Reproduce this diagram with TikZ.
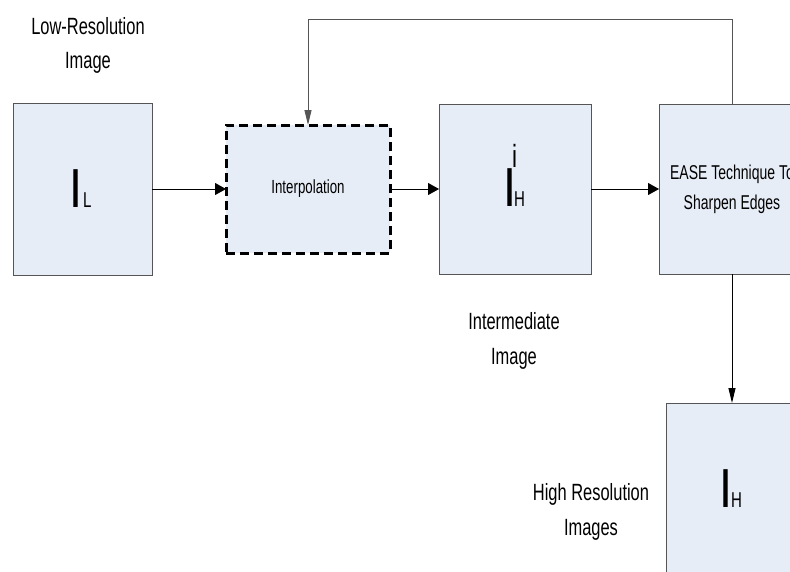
\documentclass[tikz,border=0pt]{standalone}
\usepackage{fontspec}
\setmainfont{Liberation Sans}[FakeStretch=0.7]
\newfontfamily\Ifont{Liberation Sans}[FakeStretch=0.85]
\usetikzlibrary{arrows.meta}
\definecolor{boxfill}{HTML}{E7EDF7}
\definecolor{boxline}{HTML}{555555}
\tikzset{
  imgbox/.style={draw=boxline, fill=boxfill, line width=1pt, inner sep=0pt, outer sep=0pt},
  dashbox/.style={draw=black, fill=boxfill, line width=3pt, dash pattern=on 9pt off 5pt, inner sep=0pt, outer sep=0pt},
  conn/.style={draw=black, line width=0.9pt},
  harrow/.style={-{Triangle[length=11pt,width=12pt]}},
  varrow/.style={-{Triangle[length=15pt,width=7pt]}},
  lbl/.style={inner sep=0pt, anchor=base, font=\fontsize{23.5}{28}\selectfont},
  glyph/.style={inner sep=0pt, anchor=base west}
}
\newcommand{\bigI}{\Ifont\fontsize{55}{55}\selectfont}
\newcommand{\subL}{\fontsize{21.5}{22}\selectfont}
\newcommand{\supi}{\fontsize{32}{32}\selectfont}
\begin{document}
\begin{tikzpicture}[x=1pt, y=-1pt]
\useasboundingbox (0,0) rectangle (790,571);
\clip (0,0) rectangle (790,571);
% boxes
\node[imgbox, minimum width=139pt, minimum height=172pt] (il) at (82.5,189) {};
\node[dashbox, minimum width=164pt, minimum height=128pt, font=\fontsize{19}{19}\selectfont] (interp) at (308,189) {Interpolation};
\node[imgbox, minimum width=152pt, minimum height=170pt] (ihi) at (515,189) {};
\node[imgbox, minimum width=146pt, minimum height=170pt, align=center, font=\fontsize{20}{30}\selectfont] (ease) at (732,189) {EASE Technique To\\Sharpen Edges};
\node[imgbox, minimum width=132pt, minimum height=170pt] (ih) at (732,488) {};
% glyphs
\node[glyph] (ilI) at (69.6,207) {\bigI I};
\node[glyph] (ilL) at (83,207) {\subL L};
\node[glyph] (ihiI) at (503.6,206) {\bigI I};
\node[glyph] (ihii) at (512,167) {\supi i};
\node[glyph] (ihiH) at (513.8,206) {\subL H};
\node[glyph] (ihI) at (719.6,507) {\bigI I};
\node[glyph] (ihH) at (731,507) {\subL H};
% labels
\node[lbl] (low1) at (88,34) {Low-Resolution};
\node[lbl] (low2) at (88,68) {Image};
\node[lbl] (int1) at (514,329) {Intermediate};
\node[lbl] (int2) at (514,364) {Image};
\node[lbl] (high1) at (591,500) {High Resolution};
\node[lbl] (high2) at (591,535) {Images};
% connectors
\coordinate (fbR) at (ease.north |- 0,19);
\coordinate (fbL) at (interp.north |- 0,19);
\draw[conn, harrow] (il.east) -- (interp.west);
\draw[conn, harrow] (interp.east) -- (ihi.west);
\draw[conn, harrow] (ihi.east) -- (ease.west);
\draw[conn, draw=boxline, varrow] (ease.north) -- (fbR) -- (fbL) -- (interp.north);
\draw[conn, varrow] (ease.south) -- (ih.north);
\end{tikzpicture}
\end{document}
